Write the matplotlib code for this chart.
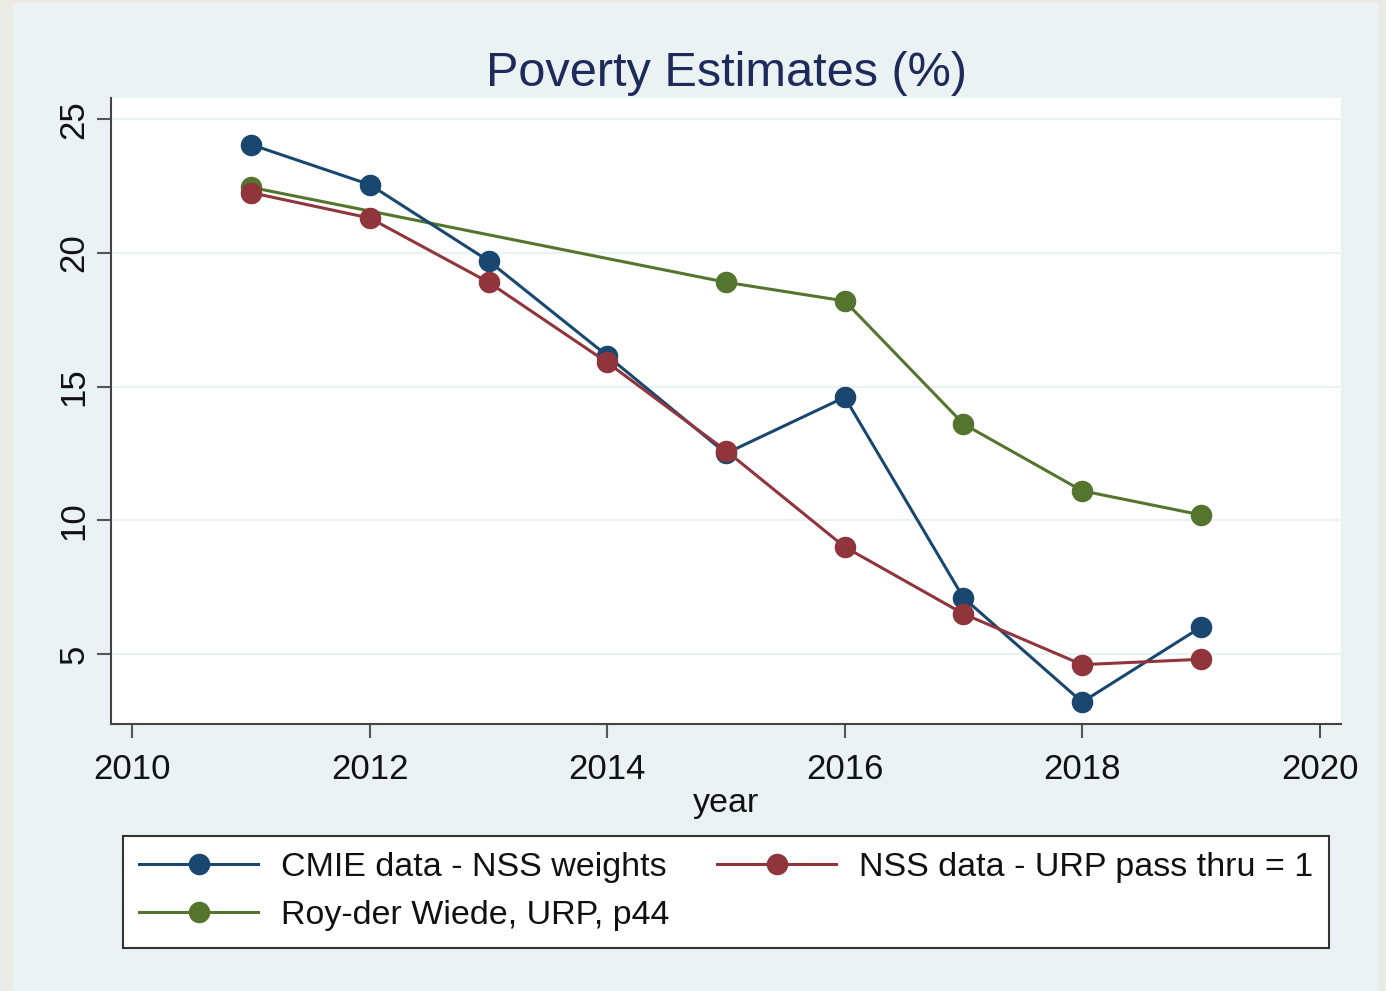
# -*- coding: utf-8 -*-
"""Poverty estimates line chart (Stata s2color look)."""

import matplotlib
matplotlib.use("Agg")
import matplotlib.pyplot as plt
from matplotlib.patches import Rectangle

# data
years = [2011, 2012, 2013, 2014, 2015, 2016, 2017, 2018, 2019]
cmie = [24.05, 22.55, 19.7, 16.15, 12.5, 14.6, 7.1, 3.2, 6.0]
nss = [22.25, 21.3, 18.9, 15.9, 12.6, 9.0, 6.5, 4.6, 4.8]
roy_years = [2011, 2015, 2016, 2017, 2018, 2019]
roy = [22.45, 18.9, 18.2, 13.6, 11.1, 10.2]

labels = ["CMIE data - NSS weights", "NSS data - URP pass thru = 1",
          "Roy-der Wiede, URP, p44"]
xticks = [2010, 2012, 2014, 2016, 2018, 2020]
yticks = [5, 10, 15, 20, 25]

navy = "#1a476f"
maroon = "#90353b"
green = "#55752f"
bg = "#eaf2f3"

plt.rcParams['font.family'] = ['Liberation Sans', 'DejaVu Sans']

W, H = 1386, 991
fig = plt.figure(figsize=(W / 100, H / 100), dpi=100)
fig.patch.set_facecolor("#ebebe5")
fig.patches.append(Rectangle((13 / W, 0), (1378 - 13) / W, 988 / H,
                             transform=fig.transFigure, facecolor=bg,
                             edgecolor="none", zorder=-10))

ax = fig.add_axes([111 / W, 1 - 724 / H, (1341 - 111) / W, (724 - 98) / H])
ax.set_facecolor("white")

style = dict(linewidth=2.2, marker="o", markersize=14.5, clip_on=False)
l1, = ax.plot(years, cmie, color=navy, label=labels[0], zorder=3, **style)
l2, = ax.plot(years, nss, color=maroon, label=labels[1], zorder=4, **style)
l3, = ax.plot(roy_years, roy, color=green, label=labels[2], zorder=2, **style)

ax.set_xlim(2009.82, 2020.18)
ax.set_ylim(2.38, 25.79)
ax.set_xticks(xticks)
ax.set_yticks(yticks)
ax.grid(axis="y", color=bg, linewidth=1.6)
ax.set_axisbelow(True)

for s in ["top", "right"]:
    ax.spines[s].set_visible(False)
for s in ["left", "bottom"]:
    ax.spines[s].set_color("#444444")
    ax.spines[s].set_linewidth(1.5)

ax.tick_params(axis="both", length=10, width=1.5, color="#555555",
               labelsize=25, labelcolor="#111111")
ax.tick_params(axis="x", pad=11)
ax.tick_params(axis="y", pad=5)
for lab in ax.get_yticklabels():
    lab.set_rotation(90)
    lab.set_va("center")

ax.set_xlabel("year", fontsize=24.5, color="#111111", labelpad=1)
ax.set_title("Poverty Estimates (%)", fontsize=35, color="#1e2a5a", pad=9)

# column-wise fill: first column CMIE + Roy, second column NSS
leg = fig.legend([l1, l3, l2], [labels[0], labels[2], labels[1]], ncol=2,
                 loc="upper left",
                 bbox_to_anchor=(123 / W, 1 - 836 / H, (1329 - 123) / W, 0),
                 mode="expand", fontsize=24.5, handlelength=3.5,
                 handletextpad=0.65, columnspacing=1.6, borderpad=0.48,
                 labelspacing=0.5, borderaxespad=0, fancybox=False,
                 framealpha=1, edgecolor="#333333")
leg.get_frame().set_linewidth(1.5)
for t in leg.get_texts():
    t.set_color("#111111")

fig.savefig("out.png", dpi=100, facecolor=fig.get_facecolor())
